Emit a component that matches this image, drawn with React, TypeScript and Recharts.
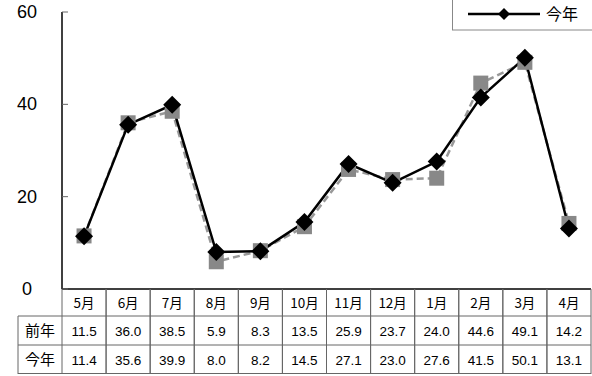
import { ComposedChart, Line, XAxis, YAxis, Legend } from "recharts"

const months = ["5月", "6月", "7月", "8月", "9月", "10月", "11月", "12月", "1月", "2月", "3月", "4月"]
const lastYear = [11.5, 36.0, 38.5, 5.9, 8.3, 13.5, 25.9, 23.7, 24.0, 44.6, 49.1, 14.2]
const thisYear = [11.4, 35.6, 39.9, 8.0, 8.2, 14.5, 27.1, 23.0, 27.6, 41.5, 50.1, 13.1]
const yTicks = [0, 20, 40, 60]

const W = 592
const H = 376
const LEFT = 62
const RIGHT = 1
const BW = (W - LEFT - RIGHT) / months.length
const ROW = [27, 29, 29]
const LABEL_X = 18

const numFont = "'Liberation Sans', Arial, sans-serif"
const jpFont = "'Noto Sans CJK JP', sans-serif"
const gridColor = "#666"

const data = months.map((m, i) => ({ month: m, prev: lastYear[i], cur: thisYear[i] }))

function TableTick(props: any) {
  const { x, y, index } = props
  const x0 = x - BW / 2
  const r1 = y + ROW[0]
  const r2 = r1 + ROW[1]
  const r3 = r2 + ROW[2]
  const fmt = (v: number) => v.toFixed(1)
  return (
    <g>
      {index === 0 && (
        <g>
          <line x1={LABEL_X} y1={r1} x2={LABEL_X} y2={r3} stroke={gridColor} />
          <line x1={LABEL_X} y1={r1} x2={x0} y2={r1} stroke={gridColor} />
          <line x1={LABEL_X} y1={r2} x2={x0} y2={r2} stroke={gridColor} />
          <line x1={LABEL_X} y1={r3 - 0.5} x2={x0} y2={r3 - 0.5} stroke={gridColor} />
          <text x={(LABEL_X + x0) / 2} y={(r1 + r2) / 2 + 5.5} textAnchor="middle" fontSize={15} fontFamily={jpFont} fill="#000">前年</text>
          <text x={(LABEL_X + x0) / 2} y={(r2 + r3) / 2 + 5.5} textAnchor="middle" fontSize={15} fontFamily={jpFont} fill="#000">今年</text>
        </g>
      )}
      <line x1={x0} y1={y} x2={x0} y2={r3} stroke={gridColor} />
      <line x1={x0 + BW} y1={y} x2={x0 + BW} y2={r3} stroke={gridColor} />
      <line x1={x0} y1={r1} x2={x0 + BW} y2={r1} stroke={gridColor} />
      <line x1={x0} y1={r2} x2={x0 + BW} y2={r2} stroke={gridColor} />
      <line x1={x0} y1={r3 - 0.5} x2={x0 + BW} y2={r3 - 0.5} stroke={gridColor} />
      <text x={x} y={(y + r1) / 2 + 5} textAnchor="middle" fontSize={13.5} fontFamily={jpFont} fill="#000">{months[index]}</text>
      <text x={x} y={(r1 + r2) / 2 + 5} textAnchor="middle" fontSize={13.5} fontFamily={numFont} fill="#000">{fmt(lastYear[index])}</text>
      <text x={x} y={(r2 + r3) / 2 + 5} textAnchor="middle" fontSize={13.5} fontFamily={numFont} fill="#000">{fmt(thisYear[index])}</text>
    </g>
  )
}

function YTick(props: any) {
  const { y, payload } = props
  return (
    <g>
      <line x1={LEFT} y1={y} x2={LEFT + 6} y2={y} stroke="#666" />
      <text x={27} y={y + 6} textAnchor="middle" fontSize={18} fontFamily={numFont} fill="#000">{payload.value}</text>
    </g>
  )
}

function Diamond(props: any) {
  const { cx, cy } = props
  if (cx == null || cy == null) return null
  const r = 9
  return <path d={`M${cx},${cy - r}L${cx + r},${cy}L${cx},${cy + r}L${cx - r},${cy}Z`} fill="#000" />
}

function Square(props: any) {
  const { cx, cy } = props
  if (cx == null || cy == null) return null
  const s = 7.5
  return <rect x={cx - s} y={cy - s} width={s * 2} height={s * 2} fill="#888" />
}

function LegendBox() {
  return (
    <svg width={145} height={32} style={{ display: "block" }}>
      <rect x={0.5} y={-2} width={150} height={32} fill="#fff" stroke="#888" />
      <line x1={16} y1={14} x2={88} y2={14} stroke="#000" strokeWidth={2.5} />
      <path d="M52,8L58,14L52,20L46,14Z" fill="#000" />
      <text x={94} y={20} fontSize={16} fontFamily={jpFont} fill="#000">今年</text>
    </svg>
  )
}

export default function App() {
  return (
    <div style={{ position: "absolute", left: 0, top: 0, background: "#fff" }}>
      <ComposedChart width={W} height={H} data={data} margin={{ top: 12, right: RIGHT, left: 0, bottom: 0 }}>
        <XAxis
          dataKey="month"
          scale="band"
          height={87}
          interval={0}
          axisLine={{ stroke: "#000", strokeWidth: 1.5 }}
          tickLine={false}
          tickSize={0}
          tickMargin={0}
          tick={<TableTick />}
        />
        <YAxis
          width={LEFT}
          domain={[0, 60]}
          ticks={yTicks}
          interval={0}
          axisLine={{ stroke: "#000", strokeWidth: 1.5 }}
          tickLine={false}
          tick={<YTick />}
        />
        <Legend
          layout="vertical"
          align="center"
          verticalAlign="middle"
          wrapperStyle={{ position: "absolute", top: 0, left: 452, width: 145 }}
          content={<LegendBox />}
        />
        <Line
          dataKey="prev"
          name="前年"
          stroke="#999"
          strokeWidth={2.5}
          strokeDasharray="7 4"
          dot={<Square />}
          isAnimationActive={false}
          legendType="none"
        />
        <Line
          dataKey="cur"
          name="今年"
          stroke="#000"
          strokeWidth={2.5}
          dot={<Diamond />}
          isAnimationActive={false}
        />
      </ComposedChart>
    </div>
  )
}
